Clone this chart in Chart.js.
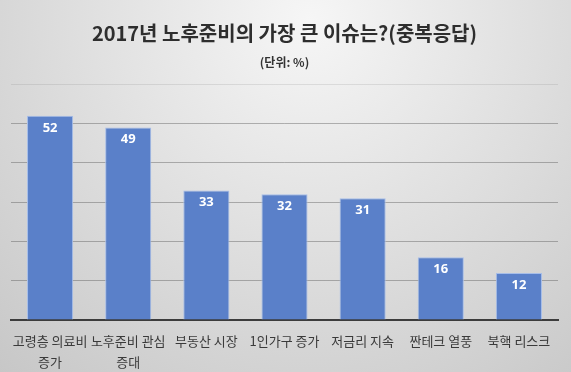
<!DOCTYPE html>
<html>
<head>
<meta charset="utf-8">
<script src="https://cdn.jsdelivr.net/npm/chart.js@4/dist/chart.umd.min.js"></script>
<style>
  html, body { margin: 0; padding: 0; }
  #wrap { width: 571px; height: 372px; }
</style>
</head>
<body>
<div id="wrap"><canvas id="myChart" width="571" height="372"></canvas></div>
<script>
// categories (multi-line ones are split like the original)
var categories = [
    ['고령층 의료비', '증가'],
    ['노후준비 관심', '증대'],
    '부동산 시장',
    '1인가구 증가',
    '저금리 지속',
    '짠테크 열풍',
    '북핵 리스크'
];
var values = [52, 49, 33, 32, 31, 16, 12];
var yTicks = [0, 10, 20, 30, 40, 50, 60];

var KR = '"Noto Sans CJK KR", "Noto Sans", sans-serif';

// grey gradient behind everything, lightest near the title
var backgroundPlugin = {
    id: 'bg',
    beforeDraw: function(chart) {
        var ctx = chart.ctx;
        var g = ctx.createRadialGradient(310, 20, 0, 310, 20, 480);
        g.addColorStop(0, '#f6f6f6');
        g.addColorStop(1, '#c6c6c6');
        ctx.save();
        ctx.fillStyle = g;
        ctx.fillRect(0, 0, chart.width, chart.height);
        ctx.restore();
    }
};

// white numbers near the top of each bar
var labelPlugin = {
    id: 'barLabels',
    afterDatasetsDraw: function(chart) {
        var ctx = chart.ctx;
        var meta = chart.getDatasetMeta(0);
        ctx.save();
        ctx.fillStyle = '#ffffff';
        ctx.font = 'bold 13px "Open Sans", sans-serif';
        ctx.textAlign = 'center';
        ctx.textBaseline = 'middle';
        meta.data.forEach(function(bar, i) {
            ctx.fillText(String(values[i]), bar.x, bar.y + 12);
        });
        ctx.restore();
    }
};

var ctx = document.getElementById('myChart').getContext('2d');
var chart = new Chart(ctx, {
    type: 'bar',
    data: {
        labels: categories,
        datasets: [{
            data: values,
            backgroundColor: '#5a80c9',
            borderColor: '#a6bde8',
            borderWidth: 1,
            categoryPercentage: 1,
            barPercentage: 0.59
        }]
    },
    options: {
        responsive: false,
        animation: false,
        layout: { padding: { left: 11, right: 13, top: 0, bottom: 0 } },
        plugins: {
            legend: { display: false },
            tooltip: { enabled: false },
            title: {
                display: true,
                text: '2017년 노후준비의 가장 큰 이슈는?(중복응답)',
                color: '#2e2e2e',
                font: { family: KR, size: 20, weight: 'bold', lineHeight: 1.2 },
                padding: { top: 21, bottom: 6 }
            },
            subtitle: {
                display: true,
                text: '(단위: %)',
                color: '#333333',
                font: { family: KR, size: 12, weight: 'bold', lineHeight: 1.2 },
                padding: { top: 4, bottom: 15 }
            }
        },
        scales: {
            x: {
                grid: { display: false, drawTicks: false, tickLength: 0 },
                border: { display: true, color: '#3c3c3c', width: 2 },
                ticks: {
                    color: '#3a3a3a',
                    font: { family: KR, size: 13, lineHeight: 1.6 },
                    padding: 11,
                    autoSkip: false,
                    maxRotation: 0
                },
                afterFit: function(axis) { axis.height = 52; }
            },
            y: {
                min: yTicks[0],
                max: yTicks[yTicks.length - 1],
                afterBuildTicks: function(axis) {
                    axis.ticks = yTicks.map(function(v) { return { value: v }; });
                },
                ticks: { display: false },
                border: { display: false },
                grid: {
                    color: function(c) {
                        return c.tick && c.tick.value === 60 ? 'rgba(120,120,120,0.18)' : 'rgba(80,80,80,0.4)';
                    },
                    lineWidth: 1,
                    drawTicks: false
                }
            }
        }
    },
    plugins: [backgroundPlugin, labelPlugin]
});
</script>
</body>
</html>
